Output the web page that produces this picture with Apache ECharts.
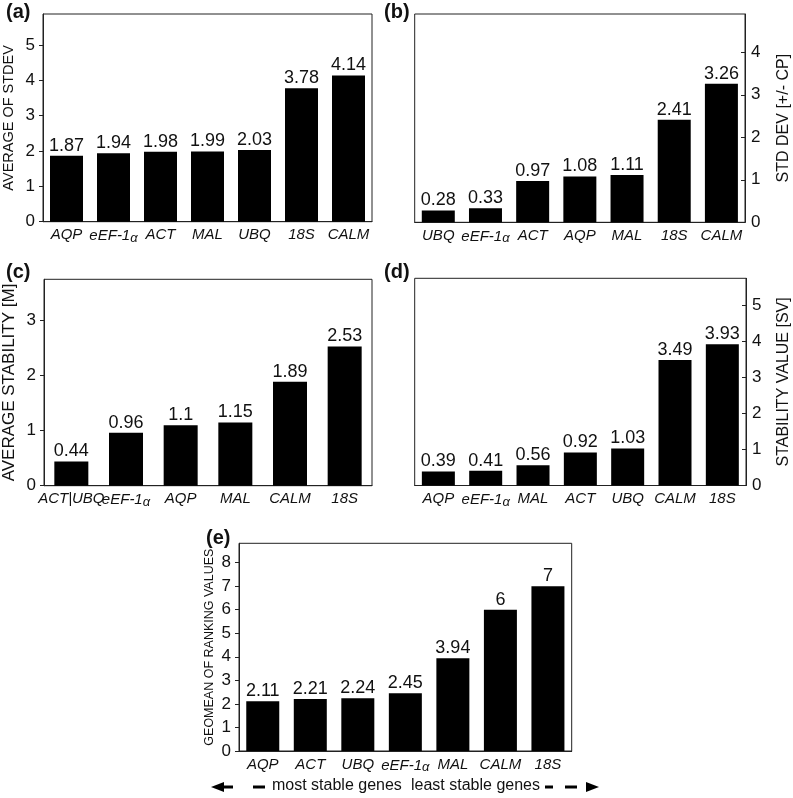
<!DOCTYPE html>
<html><head><meta charset="utf-8">
<script src="https://cdn.jsdelivr.net/npm/echarts@6/dist/echarts.min.js"></script>
<style>html,body{margin:0;padding:0;background:#fff}#c{width:793px;height:798px}</style>
</head><body><div id="c"></div>
<script>
// ---- data ----
const catsA = ['AQP','eEF-1α','ACT','MAL','UBQ','18S','CALM'];
const valsA = [1.87,1.94,1.98,1.99,2.03,3.78,4.14];
const catsB = ['UBQ','eEF-1α','ACT','AQP','MAL','18S','CALM'];
const valsB = [0.28,0.33,0.97,1.08,1.11,2.41,3.26];
const catsC = ['ACT|UBQ','eEF-1α','AQP','MAL','CALM','18S'];
const valsC = [0.44,0.96,1.1,1.15,1.89,2.53];
const catsD = ['AQP','eEF-1α','MAL','ACT','UBQ','CALM','18S'];
const valsD = [0.39,0.41,0.56,0.92,1.03,3.49,3.93];
const catsE = ['AQP','ACT','UBQ','eEF-1α','MAL','CALM','18S'];
const valsE = [2.11,2.21,2.24,2.45,3.94,6,7];
const ticksA = [0,1,2,3,4,5];
const ticksB = [0,1,2,3,4];
const ticksC = [0,1,2,3];
const ticksD = [0,1,2,3,4,5];
const ticksE = [0,1,2,3,4,5,6,7,8];
const namesY = ['AVERAGE OF STDEV','STD DEV [+/- CP]','AVERAGE STABILITY [M]','STABILITY VALUE [SV]','GEOMEAN OF RANKING VALUES'];
const panelTags = ['(a)','(b)','(c)','(d)','(e)'];

const FONT = "'Liberation Sans', Arial, sans-serif";
const INK = '#111';

const panels = [
  {cats:catsA, vals:valsA, ticks:ticksA, max:5.88, left:39.5, top:14, width:332.5, height:207.7, right:false, bw:33, nameGap:27, nfs:14.5, tag:[20,13]},
  {cats:catsB, vals:valsB, ticks:ticksB, max:4.9, left:414.7, top:14, width:331.6, height:208.3, right:true, bw:33, nameGap:31, nfs:16, tag:[398,13]},
  {cats:catsC, vals:valsC, ticks:ticksC, max:3.75, left:39.5, top:279.3, width:332.5, height:206.4, right:false, bw:34, nameGap:26, nfs:17, tag:[20,273]},
  {cats:catsD, vals:valsD, ticks:ticksD, max:5.76, left:414.7, top:278.3, width:331.6, height:207.2, right:true, bw:33, nameGap:30, nfs:16, tag:[398,273]},
  {cats:catsE, vals:valsE, ticks:ticksE, max:8.82, left:239, top:543.3, width:332.7, height:207.7, right:false, bw:33, nameGap:23, nfs:12.5, tag:[220,539]}
];

function catLabel(v){
  if (v.indexOf('α') >= 0) return '{i|' + v.replace('α','') + '}{g|α}';
  return '{i|' + v + '}';
}

const grid=[], xAxis=[], yAxis=[], series=[], graphic=[];
panels.forEach((p,i)=>{
  grid.push({left:p.left, top:p.top, width:p.width, height:p.height, show:true, borderColor:'#222', borderWidth:1, backgroundColor:'transparent', containLabel:false});
  xAxis.push({type:'category', gridIndex:i, data:p.cats, axisTick:{show:false},
    axisLine:{lineStyle:{color:'#222',width:1}},
    axisLabel:{interval:0, margin:6, formatter:catLabel, rich:{
      i:{fontFamily:FONT, fontStyle:'italic', fontSize:15, color:INK},
      g:{fontFamily:FONT, fontStyle:'italic', fontSize:13, color:INK, padding:[4,0,0,0]}
    }}});
  yAxis.push({type:'value', gridIndex:i, min:0, max:p.max, position:p.right?'right':'left',
    name:namesY[i], nameLocation:'middle', nameGap:p.nameGap, nameRotate:90,
    nameTextStyle:{fontFamily:FONT, fontSize:p.nfs, color:INK},
    axisLine:{show:true, lineStyle:{color:'#222',width:1}},
    axisTick:{show:true, length:4, inside:p.right, customValues:p.ticks, lineStyle:{color:'#222'}},
    axisLabel:{customValues:p.ticks, fontFamily:FONT, fontSize:17, color:INK, margin:p.right?6:8},
    splitLine:{show:false}});
  series.push({type:'bar', xAxisIndex:i, yAxisIndex:i, data:p.vals, barWidth:p.bw,
    itemStyle:{color:'#000'},
    label:{show:true, position:'top', distance:1, fontFamily:FONT, fontSize:18, color:INK},
    animation:false});
  graphic.push({type:'text', left:p.tag[0]-14, top:p.tag[1]-11, style:{text:panelTags[i], fontFamily:FONT, fontWeight:'bold', fontSize:20, fill:INK}});
});

// bottom annotation under panel (e)
const yA = 787;
graphic.push({type:'text', left:272, top:yA-9, style:{text:'most stable genes', fontFamily:FONT, fontSize:16, fill:INK}});
graphic.push({type:'text', left:411, top:yA-9, style:{text:'least stable genes', fontFamily:FONT, fontSize:16, fill:INK}});
graphic.push({type:'polygon', shape:{points:[[211,yA],[224,yA-5],[224,yA+5]]}, style:{fill:'#000'}});
graphic.push({type:'line', shape:{x1:224,y1:yA,x2:233,y2:yA}, style:{stroke:'#000',lineWidth:3}});
graphic.push({type:'line', shape:{x1:253,y1:yA,x2:265,y2:yA}, style:{stroke:'#000',lineWidth:3}});
graphic.push({type:'line', shape:{x1:545,y1:yA,x2:553,y2:yA}, style:{stroke:'#000',lineWidth:3}});
graphic.push({type:'line', shape:{x1:565,y1:yA,x2:577,y2:yA}, style:{stroke:'#000',lineWidth:3}});
graphic.push({type:'polygon', shape:{points:[[586,yA-5],[599,yA],[586,yA+5]]}, style:{fill:'#000'}});

const chart = echarts.init(document.getElementById('c'), null, {renderer:'canvas'});
chart.setOption({animation:false, grid, xAxis, yAxis, series, graphic});
</script></body></html>
